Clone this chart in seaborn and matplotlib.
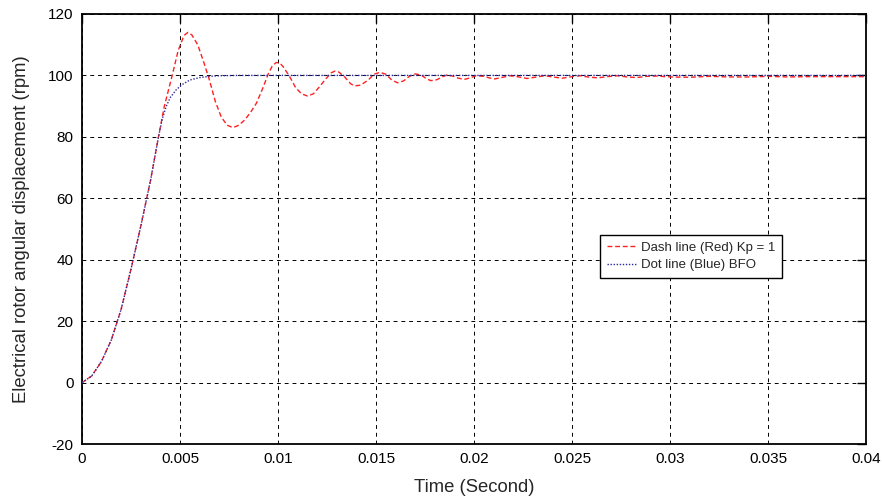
import numpy as np
import pandas as pd
import matplotlib
matplotlib.use("Agg")
import matplotlib.pyplot as plt
import seaborn as sns

# Red (Kp = 1) response
red_t = [0, 0.0005, 0.001, 0.0015, 0.002, 0.0025, 0.003, 0.0035, 0.0039, 0.0042,
         0.0046, 0.0049, 0.0052, 0.0054, 0.0056, 0.0059, 0.0062, 0.0065, 0.0068, 0.0071,
         0.0074, 0.0077, 0.0080, 0.0083, 0.0086, 0.0089, 0.0092, 0.0095, 0.0097, 0.0099,
         0.0101, 0.0103, 0.0106, 0.0109, 0.0112, 0.0115, 0.0118, 0.0121, 0.0124, 0.0127,
         0.0129, 0.0131, 0.0134, 0.0137, 0.0139, 0.0142, 0.0146, 0.0149, 0.0152, 0.0155,
         0.0158, 0.0161, 0.0164, 0.0167, 0.0170, 0.0173, 0.0176, 0.0178, 0.0181, 0.0184,
         0.0186, 0.0189, 0.0192, 0.0195, 0.0198, 0.0201, 0.0205, 0.0210, 0.0214, 0.0218,
         0.0222, 0.0227, 0.0232, 0.0236, 0.0240, 0.0245, 0.0250, 0.0254, 0.0258, 0.0263,
         0.0268, 0.0273, 0.0278, 0.0283, 0.0288, 0.0293, 0.030, 0.031, 0.032, 0.033,
         0.034, 0.035, 0.036, 0.037, 0.038, 0.039, 0.040]
red_y = [0, 2.2, 7, 14, 24, 37, 51, 66, 80, 90,
         100, 108, 113, 114, 113.2, 110, 104.5, 98.5, 91.5, 86.5,
         83.8, 83.0, 83.8, 85.5, 88, 91, 95.5, 100.5, 103, 104.2,
         104, 102.5, 99.5, 96, 94, 93.3, 94, 96.2, 98.6, 100.8,
         101.4, 101.1, 99.5, 97.3, 96.6, 96.8, 98.5, 100.4, 101, 100.4,
         98.5, 97.6, 98.2, 99.7, 100.5, 100.1, 98.8, 98.3, 98.6, 99.6,
         100.1, 99.8, 99.1, 98.7, 99.2, 99.9, 99.7, 98.8, 99.3, 99.9,
         99.6, 99.0, 99.5, 99.9, 99.5, 99.1, 99.6, 99.9, 99.5, 99.2,
         99.6, 99.9, 99.5, 99.3, 99.7, 99.8, 99.5, 99.4, 99.7, 99.5,
         99.5, 99.7, 99.5, 99.6, 99.6, 99.6, 99.6]

# Blue (BFO) response
blue_t = [0, 0.0005, 0.001, 0.0015, 0.002, 0.0025, 0.003, 0.0035, 0.0039, 0.0041,
          0.0043, 0.0045, 0.0048, 0.0051, 0.0055, 0.006, 0.0065, 0.007, 0.008, 0.04]
blue_y = [0, 2.2, 7, 14, 24, 37, 51, 66, 80, 86,
          90, 92.8, 95.3, 97, 98.5, 99.3, 99.7, 99.9, 100, 100]

x_ticks = [0, 0.005, 0.01, 0.015, 0.02, 0.025, 0.03, 0.035, 0.04]
x_tick_labels = ["0", "0.005", "0.01", "0.015", "0.02", "0.025", "0.03", "0.035", "0.04"]
y_ticks = [-20, 0, 20, 40, 60, 80, 100, 120]

labels = ["Dash line (Red) Kp = 1", "Dot line (Blue) BFO"]

sns.set_style("white")
plt.rcParams['font.family'] = ['Liberation Sans', 'DejaVu Sans']
plt.rcParams['axes.unicode_minus'] = False

df_red = pd.DataFrame({"t": red_t, "y": red_y})
df_blue = pd.DataFrame({"t": blue_t, "y": blue_y})

fig = plt.figure(figsize=(8.82, 4.99), dpi=100)
ax = fig.add_axes([0.093, 0.110, 0.889, 0.862])

sns.lineplot(data=df_red, x="t", y="y", ax=ax, color="#ff2020", linewidth=1.0,
             linestyle=(0, (3.5, 2)), label=labels[0], zorder=3)
sns.lineplot(data=df_blue, x="t", y="y", ax=ax, color="#2a2aa0", linewidth=1.0,
             linestyle=(0, (1, 1.2)), label=labels[1], zorder=4)

ax.set_xlim(0, 0.04)
ax.set_ylim(-20, 120)
ax.set_xticks(x_ticks)
ax.set_xticklabels(x_tick_labels)
ax.set_yticks(y_ticks)
ax.grid(True, color="black", linestyle=(0, (4, 4)), linewidth=0.7)
ax.set_axisbelow(True)
for s in ax.spines.values():
    s.set_color("black")
    s.set_linewidth(1.3)
    s.set_visible(True)
ax.tick_params(direction="in", length=6.5, width=1, labelsize=11, colors="black",
               top=True, right=True, pad=6)
ax.set_xlabel("Time (Second)", fontsize=13.3, labelpad=9)
ax.set_ylabel("Electrical rotor angular displacement (rpm)", fontsize=13.3, labelpad=13)

leg = ax.legend(loc="upper left", bbox_to_anchor=(0.661, 0.486), frameon=True,
                fancybox=False, edgecolor="black", fontsize=9.5, handlelength=2.2,
                borderpad=0.5, labelspacing=0.4, handletextpad=0.4, borderaxespad=0)
leg.get_frame().set_linewidth(1.0)
leg.get_frame().set_alpha(1)

fig.savefig("out.png", dpi=100)
